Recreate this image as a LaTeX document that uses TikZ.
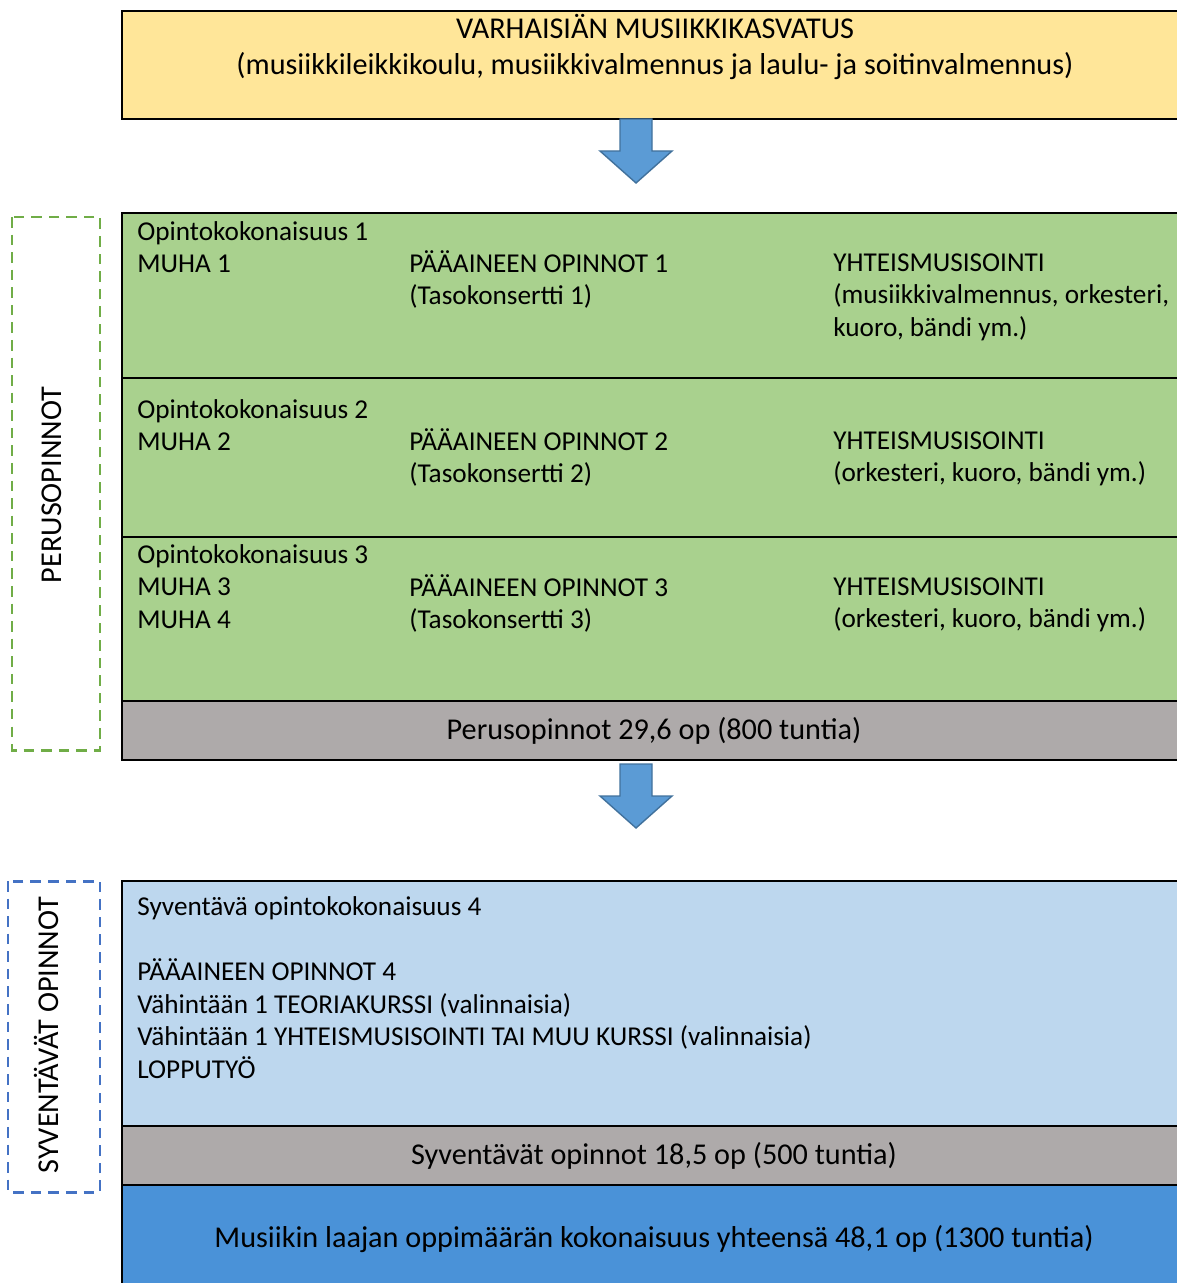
\documentclass[tikz,border=0pt]{standalone}
\usepackage{fontspec}
\setmainfont{Carlito}
\definecolor{varhais}{HTML}{FFE699}
\definecolor{perus}{HTML}{A9D18E}
\definecolor{harmaa}{HTML}{AEAAAA}
\definecolor{syvent}{HTML}{BDD7EE}
\definecolor{laaja}{HTML}{4A92D8}
\definecolor{nuoli}{HTML}{5B9BD5}
\definecolor{nuolireuna}{HTML}{41719C}
\definecolor{vihrea}{HTML}{70AD47}
\definecolor{sininen}{HTML}{4472C4}
\begin{document}
\begin{tikzpicture}[x=0.02cm,y=-0.02cm,
    box/.style={draw=black,line width=1.1pt},
    txt/.style={anchor=north west,inner sep=0pt,align=left,
      font=\fontsize{15.5}{18.6}\selectfont},
    keski/.style={inner sep=0pt,font=\fontsize{17.2}{20.4}\selectfont},
    nuolet/.style={fill=nuoli,draw=nuolireuna,line width=0.8pt},
    katko/.style={dashed,dash pattern=on 6pt off 4pt,line width=1.7pt}]
  \useasboundingbox (0,0) rectangle (1176,1283);
  % varhaisiän laatikko
  \draw[box,fill=varhais] (122,11) rectangle (1190,119);
  \node[keski,align=center] (varhais) at (655,47) {VARHAISIÄN MUSIIKKIKASVATUS\\(musiikkileikkikoulu, musiikkivalmennus ja laulu- ja soitinvalmennus)};
  \draw[nuolet] (620,119) -- (652,119) -- (652,151) -- (672,151) -- (636,183)
    -- (600,151) -- (620,151) -- cycle;
  % perusopinnot
  \draw[box,fill=perus] (122,213) rectangle (1190,701);
  \draw[box] (122,378) -- (1190,378);
  \draw[box] (122,537) -- (1190,537);
  \draw[box,fill=harmaa] (122,701) rectangle (1190,760);
  \node[txt] (ok1) at (137,221) {Opintokokonaisuus 1\\MUHA 1};
  \node[txt] (pa1) at (409,250) {PÄÄAINEEN OPINNOT 1\\(Tasokonsertti 1)};
  \node[txt] (ym1) at (833,253) {YHTEISMUSISOINTI\\(musiikkivalmennus, orkesteri,\\kuoro, bändi ym.)};
  \node[txt] (ok2) at (137,399) {Opintokokonaisuus 2\\MUHA 2};
  \node[txt] (pa2) at (409,428) {PÄÄAINEEN OPINNOT 2\\(Tasokonsertti 2)};
  \node[txt] (ym2) at (833,431) {YHTEISMUSISOINTI\\(orkesteri, kuoro, bändi ym.)};
  \node[txt] (ok3) at (137,544) {Opintokokonaisuus 3\\MUHA 3\\MUHA 4};
  \node[txt] (pa3) at (409,574) {PÄÄAINEEN OPINNOT 3\\(Tasokonsertti 3)};
  \node[txt] (ym3) at (833,577) {YHTEISMUSISOINTI\\(orkesteri, kuoro, bändi ym.)};
  \node[keski] (perusop) at (654,731) {Perusopinnot 29,6 op (800 tuntia)};
  \draw[katko,draw=vihrea] (12,217) rectangle (100,750);
  \node[keski,rotate=90] (perusteksti) at (52,485) {PERUSOPINNOT};
  \draw[nuolet] (620,764) -- (652,764) -- (652,796) -- (672,796) -- (636,828)
    -- (600,796) -- (620,796) -- cycle;
  % syventävät opinnot
  \draw[box,fill=syvent] (122,881) rectangle (1190,1126);
  \draw[box,fill=harmaa] (122,1126) rectangle (1190,1185);
  \draw[box,fill=laaja] (122,1185) rectangle (1190,1300);
  \node[txt] (sy4) at (137,896) {Syventävä opintokokonaisuus 4\\[18.6pt]PÄÄAINEEN OPINNOT 4\\Vähintään 1 TEORIAKURSSI (valinnaisia)\\Vähintään 1 YHTEISMUSISOINTI TAI MUU KURSSI (valinnaisia)\\LOPPUTYÖ};
  \node[keski] (syvop) at (654,1156) {Syventävät opinnot 18,5 op (500 tuntia)};
  \node[keski] (laajat) at (654,1239) {Musiikin laajan oppimäärän kokonaisuus yhteensä 48,1 op (1300 tuntia)};
  \draw[katko,draw=sininen] (8,881) rectangle (100,1192);
  \node[keski,rotate=90] (syvteksti) at (46,1035) {SYVENTÄVÄT OPINNOT};
\end{tikzpicture}
\end{document}
